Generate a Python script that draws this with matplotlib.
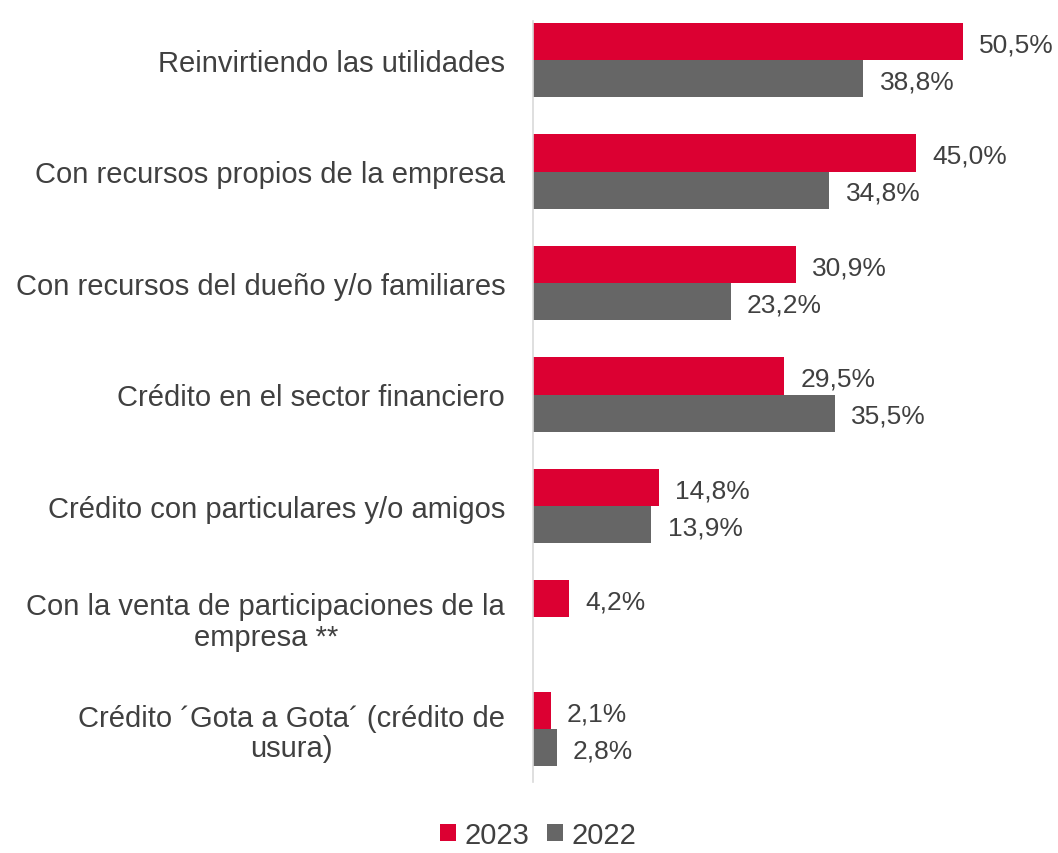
import numpy as np
import matplotlib.pyplot as plt

plt.rcParams['font.family'] = ['Liberation Sans', 'DejaVu Sans']

categorias = ["Reinvirtiendo las utilidades",
              "Con recursos propios de la empresa",
              "Con recursos del dueño y/o familiares",
              "Crédito en el sector financiero",
              "Crédito con particulares y/o amigos",
              "Con la venta de participaciones de la\nempresa **",
              "Crédito ´Gota a Gota´ (crédito de\nusura)"]
v2023 = [50.5, 45.0, 30.9, 29.5, 14.8, 4.2, 2.1]
v2022 = [38.8, 34.8, 23.2, 35.5, 13.9, np.nan, 2.8]

rojo = '#DC0032'
gris = '#666666'
texto = '#404040'

fig = plt.figure(figsize=(10.58, 8.54), dpi=100)
ax = fig.add_axes([533 / 1058, 1 - 783 / 854, (1050 - 533) / 1058, (783 - 22) / 854])

y = np.arange(len(categorias))
h = 0.335
b1 = ax.barh(y - h / 2, v2023, height=h, color=rojo, label='2023')
b2 = ax.barh(y + h / 2, v2022, height=h, color=gris, label='2022')

# etiquetas de valor
for yy, v in zip(y - h / 2, v2023):
    ax.text(v + 1.9, yy + 0.025, f"{v:.1f}%".replace('.', ','), va='center', ha='left',
            fontsize=19, color=texto)
for yy, v in zip(y + h / 2, v2022):
    if np.isnan(v):
        continue
    ax.text(v + 1.9, yy + 0.025, f"{v:.1f}%".replace('.', ','), va='center', ha='left',
            fontsize=19, color=texto)

ax.set_xlim(0, (1050 - 533) / 8.515)
ax.set_ylim((783 - 61) / 111.5, (22 - 61) / 111.5)
ax.set_yticks(y)
ax.set_yticklabels(categorias, fontsize=21, color=texto, multialignment='center',
                   linespacing=1.1)
ax.tick_params(axis='y', length=0, pad=20)
ax.set_xticks([])
for s in ['top', 'right', 'bottom']:
    ax.spines[s].set_visible(False)
ax.spines['left'].set_color('#D9D9D9')
ax.spines['left'].set_linewidth(1.2)

fig.legend(handles=[b1, b2], labels=['2023', '2022'], loc='center',
           bbox_to_anchor=(538 / 1058, 1 - 836 / 854), ncol=2, frameon=False,
           fontsize=21, handlelength=0.55, handleheight=0.55, handletextpad=0.3,
           columnspacing=0.6, labelcolor=texto)

fig.savefig('out.png', dpi=100)
